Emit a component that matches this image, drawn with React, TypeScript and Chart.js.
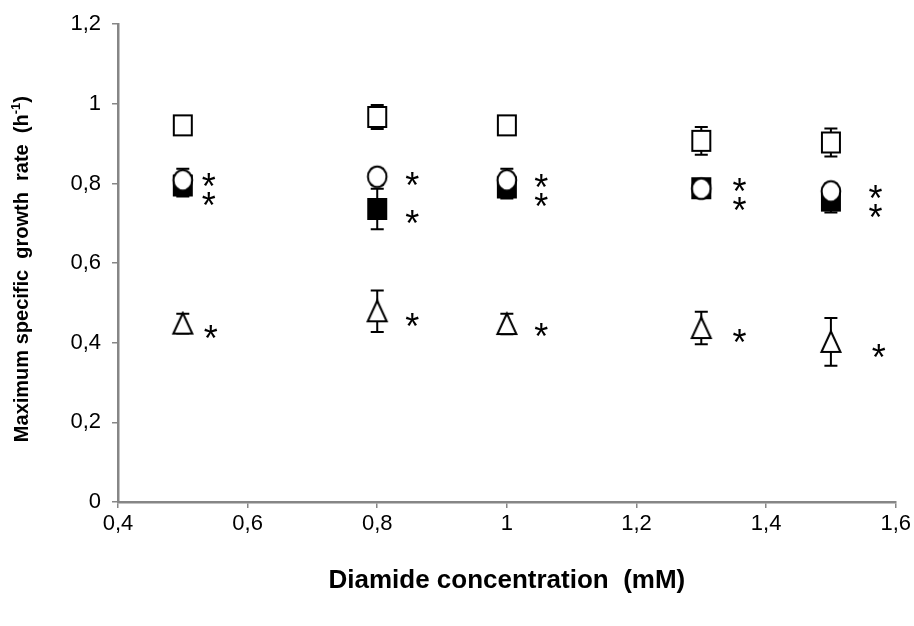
import React, { useEffect, useRef } from "react";
import { Chart, registerables } from "chart.js";

Chart.register(...registerables);

// ---- data ----
const concentrations = [0.5, 0.8, 1.0, 1.3, 1.5];

const openSquareValues = [0.946, 0.967, 0.946, 0.907, 0.903];
const openSquareErrors = [0.01, 0.03, 0.01, 0.035, 0.035];

const filledSquareValues = [0.795, 0.736, 0.79, 0.788, 0.757];
const filledSquareErrors = [0.028, 0.051, 0.028, 0.015, 0.03];

const openCircleValues = [0.808, 0.817, 0.808, 0.787, 0.78];
const openCircleErrors = [0.029, 0.02, 0.029, 0.015, 0.02];

const triangleValues = [0.448, 0.479, 0.447, 0.437, 0.402];
const triangleErrors = [0.025, 0.052, 0.026, 0.041, 0.06];

// significance asterisks (data coordinates)
const starUpperX = [0.54, 0.854, 1.053, 1.359, 1.569];
const starUpperY = [0.809, 0.812, 0.807, 0.797, 0.779];
const starMiddleY = [0.762, 0.715, 0.759, 0.749, 0.732];
const starLowerX = [0.543, 0.854, 1.053, 1.359, 1.574];
const starLowerY = [0.426, 0.456, 0.433, 0.416, 0.378];

const xTickValues = [0.4, 0.6, 0.8, 1.0, 1.2, 1.4, 1.6];
const xTickLabels = ["0,4", "0,6", "0,8", "1", "1,2", "1,4", "1,6"];
const yTickValues = [0, 0.2, 0.4, 0.6, 0.8, 1.0, 1.2];
const yTickLabels = ["0", "0,2", "0,4", "0,6", "0,8", "1", "1,2"];

const xTitle = "Diamide concentration  (mM)";
const yTitleMain = "Maximum specific  growth  rate  (h";
const yTitleSup = "-1";
const yTitleEnd = ")";

const FONT = '"Liberation Sans", Arial, sans-serif';

function makeMarker(kind: string): HTMLCanvasElement {
  const c = document.createElement("canvas");
  c.width = 26;
  c.height = 26;
  const ctx = c.getContext("2d")!;
  ctx.lineWidth = 2;
  ctx.strokeStyle = "#000";
  ctx.lineJoin = "miter";
  ctx.beginPath();
  if (kind === "openSquare" || kind === "filledSquare") {
    ctx.rect(4, 3, 18, 20);
  } else if (kind === "circle") {
    ctx.ellipse(13, 13, 9.3, 10.3, 0, 0, Math.PI * 2);
  } else {
    ctx.moveTo(13, 2.5);
    ctx.lineTo(22.5, 23);
    ctx.lineTo(3.5, 23);
    ctx.closePath();
  }
  ctx.fillStyle = kind === "filledSquare" ? "#000" : "#fff";
  ctx.fill();
  ctx.stroke();
  return c;
}

const toPoints = (vals: number[]) =>
  concentrations.map((x, i) => ({ x, y: vals[i] }));

export default function App() {
  const ref = useRef<HTMLCanvasElement>(null);

  useEffect(() => {
    document.body.style.margin = "0";
    const canvas = ref.current!;

    const errorSets = [
      { vals: openSquareValues, errs: openSquareErrors },
      { vals: filledSquareValues, errs: filledSquareErrors },
      { vals: openCircleValues, errs: openCircleErrors },
      { vals: triangleValues, errs: triangleErrors },
    ];

    const errorBarPlugin = {
      id: "errorBars",
      beforeDatasetsDraw(chart: any) {
        const { ctx, scales } = chart;
        const xs = scales.x;
        const ys = scales.y;
        ctx.save();
        ctx.strokeStyle = "#000";
        ctx.lineWidth = 2;
        errorSets.forEach((s) => {
          concentrations.forEach((cx, i) => {
            const px = xs.getPixelForValue(cx);
            const top = ys.getPixelForValue(s.vals[i] + s.errs[i]);
            const bot = ys.getPixelForValue(s.vals[i] - s.errs[i]);
            ctx.beginPath();
            ctx.moveTo(px, top);
            ctx.lineTo(px, bot);
            ctx.moveTo(px - 6.5, top);
            ctx.lineTo(px + 6.5, top);
            ctx.moveTo(px - 6.5, bot);
            ctx.lineTo(px + 6.5, bot);
            ctx.stroke();
          });
        });
        ctx.restore();
      },
    };

    const starPlugin = {
      id: "stars",
      afterDatasetsDraw(chart: any) {
        const { ctx, scales } = chart;
        const xs = scales.x;
        const ys = scales.y;
        ctx.save();
        ctx.fillStyle = "#000";
        ctx.font = `36px ${FONT}`;
        ctx.textBaseline = "alphabetic";
        ctx.textAlign = "left";
        const m = ctx.measureText("*");
        const vOff = (m.actualBoundingBoxAscent - m.actualBoundingBoxDescent) / 2;
        const hOff = (m.actualBoundingBoxRight - m.actualBoundingBoxLeft) / 2;
        const draw = (xv: number, yv: number) => {
          const px = xs.getPixelForValue(xv);
          const py = ys.getPixelForValue(yv);
          ctx.fillText("*", px - hOff, py + vOff);
        };
        concentrations.forEach((_, i) => {
          draw(starUpperX[i], starUpperY[i]);
          draw(starUpperX[i], starMiddleY[i]);
          draw(starLowerX[i], starLowerY[i]);
        });
        ctx.restore();
      },
    };

    const yTitlePlugin = {
      id: "yTitle",
      afterDraw(chart: any) {
        const { ctx, chartArea } = chart;
        ctx.save();
        ctx.fillStyle = "#000";
        ctx.translate(22, (chartArea.top + chartArea.bottom) / 2 + 6);
        ctx.rotate(-Math.PI / 2);
        ctx.textBaseline = "middle";
        ctx.textAlign = "left";
        const mainFont = `bold 20px ${FONT}`;
        const supFont = `bold 13px ${FONT}`;
        ctx.font = mainFont;
        const w1 = ctx.measureText(yTitleMain).width;
        const w3 = ctx.measureText(yTitleEnd).width;
        ctx.font = supFont;
        const w2 = ctx.measureText(yTitleSup).width;
        let x = -(w1 + w2 + w3) / 2;
        ctx.font = mainFont;
        ctx.fillText(yTitleMain, x, 0);
        x += w1;
        ctx.font = supFont;
        ctx.fillText(yTitleSup, x, -6);
        x += w2;
        ctx.font = mainFont;
        ctx.fillText(yTitleEnd, x, 0);
        ctx.restore();
      },
    };

    const axisColor = "#868686";

    const chart = new Chart(canvas, {
      type: "scatter",
      data: {
        datasets: [
          {
            label: "open square",
            data: toPoints(openSquareValues),
            pointStyle: makeMarker("openSquare") as any,
            order: 2,
          },
          {
            label: "filled square",
            data: toPoints(filledSquareValues),
            pointStyle: makeMarker("filledSquare") as any,
            order: 1,
          },
          {
            label: "open circle",
            data: toPoints(openCircleValues),
            pointStyle: makeMarker("circle") as any,
            order: 0,
          },
          {
            label: "open triangle",
            data: toPoints(triangleValues),
            pointStyle: makeMarker("triangle") as any,
            order: 2,
          },
        ],
      },
      options: {
        responsive: false,
        animation: false,
        events: [],
        layout: { padding: { top: 3, right: 8, left: 0, bottom: 0 } },
        plugins: {
          legend: { display: false },
          tooltip: { enabled: false },
        },
        scales: {
          x: {
            type: "linear",
            min: 0.4,
            max: 1.6,
            afterFit(scale: any) {
              scale.height = 124;
            },
            afterBuildTicks(scale: any) {
              scale.ticks = xTickValues.map((v) => ({ value: v }));
            },
            ticks: {
              color: "#000",
              font: { family: FONT, size: 22 },
              padding: 3,
              maxRotation: 0,
              autoSkip: false,
              callback: (_v: any, i: number) => xTickLabels[i],
            },
            grid: {
              display: true,
              drawOnChartArea: false,
              drawTicks: true,
              tickLength: 6,
              color: axisColor,
              lineWidth: 1.5,
            },
            border: { display: true, color: axisColor, width: 2.5 },
            title: {
              display: true,
              text: xTitle,
              color: "#000",
              font: { family: FONT, size: 26, weight: "bold" },
              padding: { top: 0, bottom: 30 },
            },
          },
          y: {
            type: "linear",
            min: 0,
            max: 1.2,
            afterFit(scale: any) {
              scale.width = 118;
            },
            afterBuildTicks(scale: any) {
              scale.ticks = yTickValues.map((v) => ({ value: v }));
            },
            ticks: {
              color: "#000",
              font: { family: FONT, size: 22 },
              padding: 11,
              autoSkip: false,
              callback: (_v: any, i: number) => yTickLabels[i],
            },
            grid: {
              display: true,
              drawOnChartArea: false,
              drawTicks: true,
              tickLength: 6,
              color: axisColor,
              lineWidth: 1.5,
            },
            border: { display: true, color: axisColor, width: 2.5 },
            title: { display: false },
          },
        },
      },
      plugins: [errorBarPlugin, starPlugin, yTitlePlugin],
    });

    return () => chart.destroy();
  }, []);

  return (
    <div style={{ width: 914, height: 626 }}>
      <canvas ref={ref} width={914} height={626} style={{ display: "block" }} />
    </div>
  );
}
